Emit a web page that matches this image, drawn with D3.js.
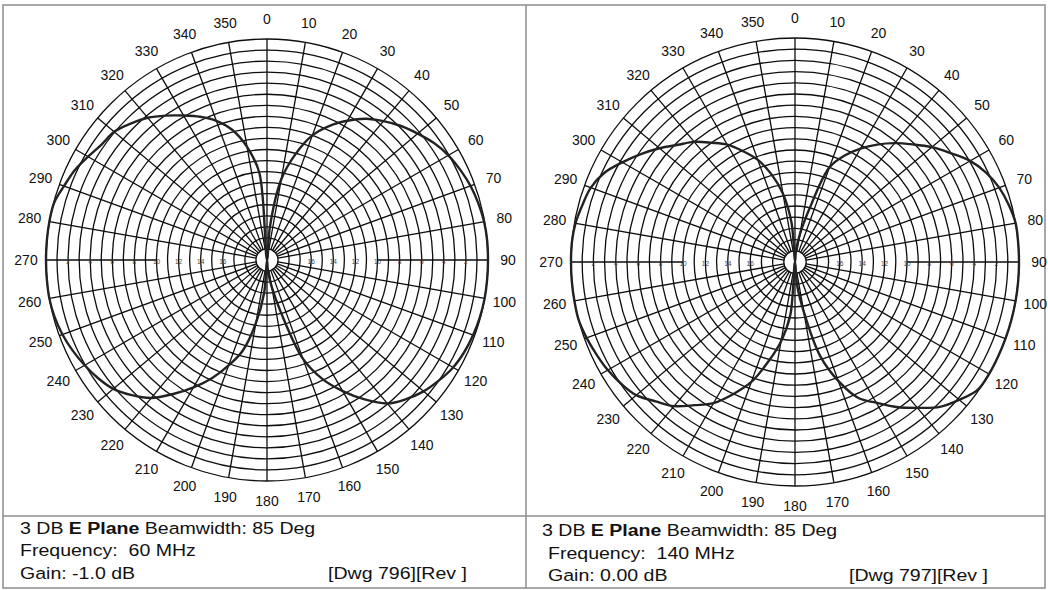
<!DOCTYPE html>
<html>
<head>
<meta charset="utf-8">
<script src="https://cdn.jsdelivr.net/npm/d3@7/dist/d3.min.js"></script>
<style>
  body { margin: 0; background: #fff; }
  svg { display: block; font-family: Arial, "Liberation Sans", sans-serif; }
</style>
</head>
<body>
<svg id="chart" width="1048" height="590"></svg>
<script>
// ---------------- DATA ----------------
// Angles of the pattern samples (degrees, clockwise from 0 at top)
const sampleAngles = d3.range(0, 360, 5);

// Attenuation below peak (dB), one value per 5 degrees
const att60MHz = [
  20, 17, 12.6, 10.1, 8.0, 6.6, 5.45, 4.4, 3.6, 2.85, 2.2, 1.55,     // 0-55
  1.05, 0.7, 0.4, 0.2, 0.05, 0, 0, 0, 0, 0.05, 0.15, 0.3,            // 60-115
  0.55, 1.0, 1.5, 2.2, 3.05, 4.6, 6.3, 8.1, 10.5, 15.0, 17.5, 19,    // 120-175
  20, 17, 14.2, 11.5, 9.85, 8.2, 6.7, 5.2, 3.7, 2.7, 1.85, 1.35,     // 180-235
  0.95, 0.6, 0.3, 0.1, 0, 0, 0, 0, 0, 0.05, 0.45, 0.8,               // 240-295
  1.3, 1.75, 1.95, 2.55, 3.2, 4.05, 4.9, 5.7, 6.6, 7.8, 9.6, 12.1    // 300-355
];

const att140MHz = [
  20, 19, 17.5, 15.2, 11.0, 9.5, 8.3, 7.2, 6.15, 5.15, 4.05, 3.05,   // 0-55
  1.95, 1.15, 0.6, 0.25, 0, 0, 0, 0, 0, 0, 0, 0,                     // 60-115
  0, 0.1, 0.85, 1.7, 3.0, 4.2, 5.5, 6.6, 8.7, 11.3, 15.5, 18,        // 120-175
  20, 15.3, 12.8, 10.8, 8.6, 7.0, 5.45, 4.4, 3.2, 2.4, 1.5, 1.05,    // 180-235
  0.7, 0.45, 0.2, 0, 0, 0, 0, 0, 0.1, 0.35, 0.6, 1.2,                // 240-295
  2.2, 3.2, 4.2, 5.2, 6.0, 7.0, 7.9, 9.1, 10.3, 11.9, 13.8, 16.5     // 300-355
];

// Degree labels round the rim and dB labels along the 90/270 axis
const degreeLabels = d3.range(0, 360, 10);
const ringLabels = [2, 4, 6, 8, 10, 12, 14, 16];
const ringSteps = d3.range(0, 20, 1);   // one ring per dB

const captions = [
  { plane: "E Plane", beam: "85 Deg", freq: "60 MHz", gain: "-1.0 dB", dwg: "[Dwg 796][Rev ]" },
  { plane: "E Plane", beam: "85 Deg", freq: "140 MHz", gain: "0.00 dB", dwg: "[Dwg 797][Rev ]" }
];

// ---------------- LAYOUT ----------------
const panels = [
  { cx: 267, cy: 260, R: 221, data: att60MHz, cap: captions[0],
    tx: 20, ty: [534, 556, 579], tx2: 20, dx: 328 },
  { cx: 795, cy: 262, R: 224, data: att140MHz, cap: captions[1],
    tx: 542, ty: [536, 559, 581], tx2: 548, dx: 849 }
];

const svg = d3.select("#chart");
const rad = d => d * Math.PI / 180;

// Frame: outer box, divider between plots, divider above captions
const frame = svg.append("g")
  .attr("fill", "none")
  .attr("stroke", "#8c8c8c")
  .attr("stroke-width", 1.5);
frame.append("rect").attr("x", 3).attr("y", 5).attr("width", 1042).attr("height", 583);
frame.append("line").attr("x1", 526).attr("x2", 526).attr("y1", 5).attr("y2", 588);
frame.append("line").attr("x1", 3).attr("x2", 1045).attr("y1", 516).attr("y2", 516);

panels.forEach(p => {
  const g = svg.append("g").attr("transform", `translate(${p.cx},${p.cy})`);

  // dB attenuation -> radius (0 dB on the rim, 20 dB at centre)
  const r = d3.scaleLinear().domain([20, 0]).range([0, p.R]);

  // concentric rings
  g.append("g").selectAll("circle")
    .data(ringSteps)
    .enter()
    .append("circle")
    .attr("r", d => r(d))
    .attr("fill", "none")
    .attr("stroke", "#0d0d0d")
    .attr("stroke-width", 1.3);

  // spokes every 10 degrees; the 90/270 axis stops at the 10 dB ring
  const inner = d => (d === 90 || d === 270) ? r(10) : r(19);
  g.append("g").selectAll("line")
    .data(degreeLabels)
    .enter()
    .append("line")
    .attr("x1", d => Math.sin(rad(d)) * inner(d))
    .attr("y1", d => -Math.cos(rad(d)) * inner(d))
    .attr("x2", d => Math.sin(rad(d)) * r(0))
    .attr("y2", d => -Math.cos(rad(d)) * r(0))
    .attr("stroke", "#0d0d0d")
    .attr("stroke-width", 1.3);

  // small dB labels along the horizontal axis
  [90, 270].forEach(side => {
    g.append("g").selectAll("text")
      .data(ringLabels)
      .enter()
      .append("text")
      .attr("x", d => Math.sin(rad(side)) * r(d))
      .attr("y", 2)
      .attr("text-anchor", "middle")
      .attr("dominant-baseline", "middle")
      .attr("font-size", 6.5)
      .attr("fill", "#444")
      .text(d => d);
  });

  // degree labels round the rim
  g.append("g").selectAll("text")
    .data(degreeLabels)
    .enter()
    .append("text")
    .attr("x", d => Math.sin(rad(d)) * (p.R + 20))
    .attr("y", d => -Math.cos(rad(d)) * (p.R + 20))
    .attr("text-anchor", "middle")
    .attr("dominant-baseline", "central")
    .attr("font-size", 14)
    .attr("fill", "#111")
    .text(d => d);

  // radiation pattern
  const line = d3.lineRadial()
    .angle((d, i) => rad(sampleAngles[i]))
    .radius(d => r(d))
    .curve(d3.curveCatmullRomClosed.alpha(0.5));
  g.append("path")
    .attr("d", line(p.data))
    .attr("fill", "none")
    .attr("stroke", "#222")
    .attr("stroke-width", 2.4);

  // caption block
  const cap = svg.append("g").attr("font-size", 17).attr("fill", "#111");
  const l1 = cap.append("text")
    .attr("transform", `translate(${p.tx},${p.ty[0]}) scale(1.15,1)`)
    .attr("xml:space", "preserve");
  l1.append("tspan").text("3 DB ");
  l1.append("tspan").attr("font-weight", "bold").text(p.cap.plane);
  l1.append("tspan").text(" Beamwidth: " + p.cap.beam);
  cap.append("text")
    .attr("transform", `translate(${p.tx2},${p.ty[1]}) scale(1.15,1)`)
    .style("white-space", "pre")
    .text("Frequency:  " + p.cap.freq);
  cap.append("text")
    .attr("transform", `translate(${p.tx2},${p.ty[2]}) scale(1.15,1)`)
    .text("Gain: " + p.cap.gain);
  cap.append("text")
    .attr("transform", `translate(${p.dx},${p.ty[2]}) scale(1.15,1)`)
    .text(p.cap.dwg);
});
</script>
</body>
</html>
